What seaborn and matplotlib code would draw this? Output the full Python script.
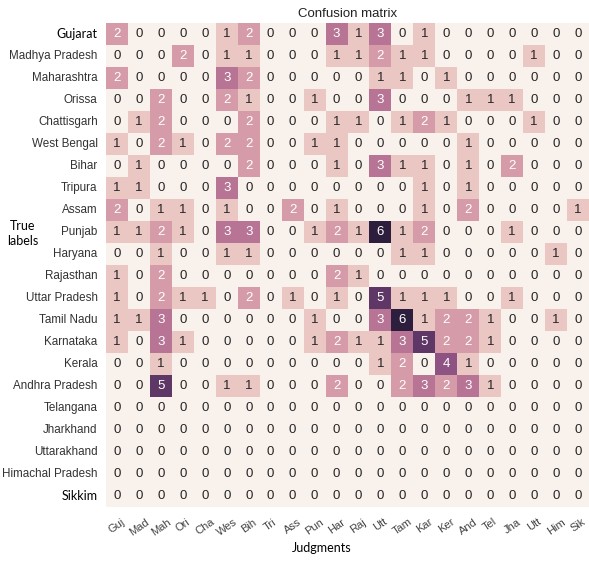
"""
Confusion matrix of state-of-origin judgments, drawn as a seaborn heatmap.
"""

import numpy as np
import matplotlib
matplotlib.use("Agg")
import matplotlib.pyplot as plt
import seaborn as sns

# Data
true_labels = [
    "Gujarat", "Madhya Pradesh", "Maharashtra", "Orissa", "Chattisgarh",
    "West Bengal", "Bihar", "Tripura", "Assam", "Punjab", "Haryana",
    "Rajasthan", "Uttar Pradesh", "Tamil Nadu", "Karnataka", "Kerala",
    "Andhra Pradesh", "Telangana", "Jharkhand", "Uttarakhand",
    "Himachal Pradesh", "Sikkim",
]
judgment_labels = [
    "Guj", "Mad", "Mah", "Ori", "Cha", "Wes", "Bih", "Tri", "Ass", "Pun",
    "Har", "Raj", "Utt", "Tam", "Kar", "Ker", "And", "Tel", "Jha", "Utt",
    "Him", "Sik",
]

gujarat        = [2, 0, 0, 0, 0, 1, 2, 0, 0, 0, 3, 1, 3, 0, 1, 0, 0, 0, 0, 0, 0, 0]
madhya_pradesh = [0, 0, 0, 2, 0, 1, 1, 0, 0, 0, 1, 1, 2, 1, 1, 0, 0, 0, 0, 1, 0, 0]
maharashtra    = [2, 0, 0, 0, 0, 3, 2, 0, 0, 0, 0, 0, 1, 1, 0, 1, 0, 0, 0, 0, 0, 0]
orissa         = [0, 0, 2, 0, 0, 2, 1, 0, 0, 1, 0, 0, 3, 0, 0, 0, 1, 1, 1, 0, 0, 0]
chattisgarh    = [0, 1, 2, 0, 0, 0, 2, 0, 0, 0, 1, 1, 0, 1, 2, 1, 0, 0, 0, 1, 0, 0]
west_bengal    = [1, 0, 2, 1, 0, 2, 2, 0, 0, 1, 1, 0, 0, 0, 0, 0, 1, 0, 0, 0, 0, 0]
bihar          = [0, 1, 0, 0, 0, 0, 2, 0, 0, 0, 1, 0, 3, 1, 1, 0, 1, 0, 2, 0, 0, 0]
tripura        = [1, 1, 0, 0, 0, 3, 0, 0, 0, 0, 0, 0, 0, 0, 1, 0, 1, 0, 0, 0, 0, 0]
assam          = [2, 0, 1, 1, 0, 1, 0, 0, 2, 0, 1, 0, 0, 0, 1, 0, 2, 0, 0, 0, 0, 1]
punjab         = [1, 1, 2, 1, 0, 3, 3, 0, 0, 1, 2, 1, 6, 1, 2, 0, 0, 0, 1, 0, 0, 0]
haryana        = [0, 0, 1, 0, 0, 1, 1, 0, 0, 0, 0, 0, 0, 1, 1, 0, 0, 0, 0, 0, 1, 0]
rajasthan      = [1, 0, 2, 0, 0, 0, 0, 0, 0, 0, 2, 1, 0, 0, 0, 0, 0, 0, 0, 0, 0, 0]
uttar_pradesh  = [1, 0, 2, 1, 1, 0, 2, 0, 1, 0, 1, 0, 5, 1, 1, 1, 0, 0, 1, 0, 0, 0]
tamil_nadu     = [1, 1, 3, 0, 0, 0, 0, 0, 0, 1, 0, 0, 3, 6, 1, 2, 2, 1, 0, 0, 1, 0]
karnataka      = [1, 0, 3, 1, 0, 0, 0, 0, 0, 1, 2, 1, 1, 3, 5, 2, 2, 1, 0, 0, 0, 0]
kerala         = [0, 0, 1, 0, 0, 0, 0, 0, 0, 0, 0, 0, 1, 2, 0, 4, 1, 0, 0, 0, 0, 0]
andhra_pradesh = [0, 0, 5, 0, 0, 1, 1, 0, 0, 0, 2, 0, 0, 2, 3, 2, 3, 1, 0, 0, 0, 0]
telangana      = [0] * 22
jharkhand      = [0] * 22
uttarakhand    = [0] * 22
himachal       = [0] * 22
sikkim         = [0] * 22

matrix = np.array([
    gujarat, madhya_pradesh, maharashtra, orissa, chattisgarh, west_bengal,
    bihar, tripura, assam, punjab, haryana, rajasthan, uttar_pradesh,
    tamil_nadu, karnataka, kerala, andhra_pradesh, telangana, jharkhand,
    uttarakhand, himachal, sikkim,
])

# Styling
ARIAL = "Liberation Sans"
CALIBRI_LIKE = "Lato"
cmap = sns.cubehelix_palette(light=0.95, dark=0.15, as_cmap=True)


def main():
    fig = plt.figure(figsize=(5.89, 5.63), dpi=100)
    ax = fig.add_axes([106 / 589, 1 - 507 / 563, 483 / 589, 484 / 563])

    sns.heatmap(matrix, ax=ax, cmap=cmap, vmin=0, vmax=6, cbar=False,
                annot=True, fmt="d",
                annot_kws={"fontsize": 9.5, "family": ARIAL},
                xticklabels=judgment_labels, yticklabels=true_labels)

    ax.set_title("Confusion matrix", fontsize=9.5, family=ARIAL,
                 color="#222222", pad=4)

    # tick labels
    ax.tick_params(axis="both", length=0)
    ax.tick_params(axis="y", pad=6)
    ax.tick_params(axis="x", pad=7)
    for lab in ax.get_yticklabels():
        lab.set_rotation(0)
        if lab.get_text() in ("Gujarat", "Sikkim"):
            lab.set_family(CALIBRI_LIKE)
            lab.set_fontsize(9)
            lab.set_color("black")
        else:
            lab.set_family(ARIAL)
            lab.set_fontsize(8.4)
            lab.set_color("#333333")
    for lab in ax.get_xticklabels():
        lab.set_rotation(35)
        lab.set_ha("center")
        lab.set_family(ARIAL)
        lab.set_fontsize(8)
        lab.set_color("#444444")

    # axis labels
    ax.set_ylabel("True\nlabels", rotation=0, fontsize=9, family=CALIBRI_LIKE,
                  color="black", ha="center", va="center", linespacing=1.3)
    ax.yaxis.set_label_coords(-0.172, 0.565)
    ax.set_xlabel("Judgments", fontsize=9, family=CALIBRI_LIKE, color="black",
                  ha="center", va="center")
    ax.xaxis.set_label_coords(0.447, -0.085)

    fig.savefig("out.png", dpi=100, facecolor="white")
    plt.close(fig)


if __name__ == "__main__":
    main()
